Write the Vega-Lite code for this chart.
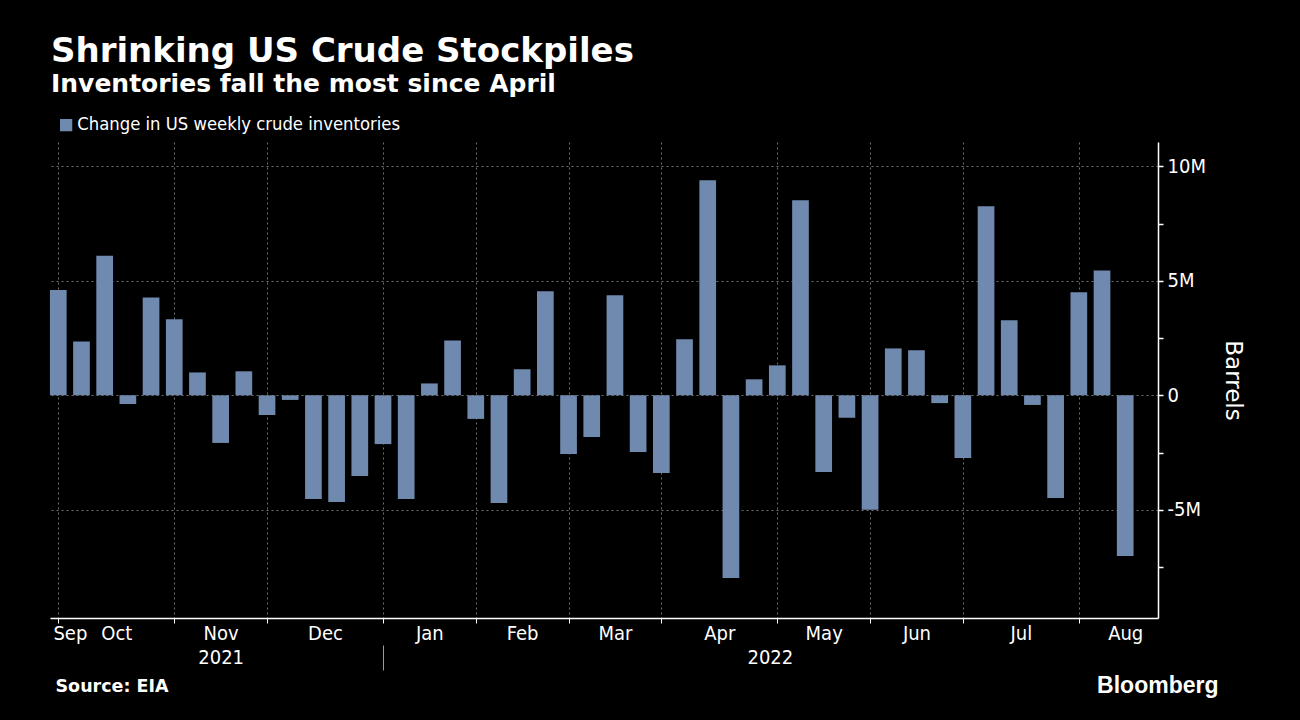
{
  "$schema": "https://vega.github.io/schema/vega-lite/v6.json",
  "width": 1108,
  "height": 476,
  "autosize": {"type": "none"},
  "padding": {"left": 50, "top": 142, "right": 142, "bottom": 102},
  "background": "#000000",
  "config": {"view": {"stroke": null}, "font": "DejaVu Sans Condensed"},
  "title": {
    "text": "Shrinking US Crude Stockpiles",
    "subtitle": "Inventories fall the most since April",
    "anchor": "start",
    "frame": "group",
    "color": "#ffffff",
    "subtitleColor": "#ffffff",
    "font": "DejaVu Sans",
    "subtitleFont": "DejaVu Sans",
    "fontSize": 34,
    "subtitleFontSize": 25,
    "fontWeight": "bold",
    "subtitleFontWeight": "bold",
    "subtitlePadding": 3,
    "offset": 19,
    "dx": 1
  },
  "data": {
    "values": [
      {"date": "2021-09-24", "change": 4600000, "series": "Change in US weekly crude inventories"},
      {"date": "2021-10-01", "change": 2350000, "series": "Change in US weekly crude inventories"},
      {"date": "2021-10-08", "change": 6100000, "series": "Change in US weekly crude inventories"},
      {"date": "2021-10-15", "change": -380000, "series": "Change in US weekly crude inventories"},
      {"date": "2021-10-22", "change": 4280000, "series": "Change in US weekly crude inventories"},
      {"date": "2021-10-29", "change": 3320000, "series": "Change in US weekly crude inventories"},
      {"date": "2021-11-05", "change": 1000000, "series": "Change in US weekly crude inventories"},
      {"date": "2021-11-12", "change": -2080000, "series": "Change in US weekly crude inventories"},
      {"date": "2021-11-19", "change": 1050000, "series": "Change in US weekly crude inventories"},
      {"date": "2021-11-26", "change": -860000, "series": "Change in US weekly crude inventories"},
      {"date": "2021-12-03", "change": -200000, "series": "Change in US weekly crude inventories"},
      {"date": "2021-12-10", "change": -4530000, "series": "Change in US weekly crude inventories"},
      {"date": "2021-12-17", "change": -4660000, "series": "Change in US weekly crude inventories"},
      {"date": "2021-12-24", "change": -3530000, "series": "Change in US weekly crude inventories"},
      {"date": "2021-12-31", "change": -2130000, "series": "Change in US weekly crude inventories"},
      {"date": "2022-01-07", "change": -4530000, "series": "Change in US weekly crude inventories"},
      {"date": "2022-01-14", "change": 520000, "series": "Change in US weekly crude inventories"},
      {"date": "2022-01-21", "change": 2400000, "series": "Change in US weekly crude inventories"},
      {"date": "2022-01-28", "change": -1030000, "series": "Change in US weekly crude inventories"},
      {"date": "2022-02-04", "change": -4710000, "series": "Change in US weekly crude inventories"},
      {"date": "2022-02-11", "change": 1140000, "series": "Change in US weekly crude inventories"},
      {"date": "2022-02-18", "change": 4550000, "series": "Change in US weekly crude inventories"},
      {"date": "2022-02-25", "change": -2560000, "series": "Change in US weekly crude inventories"},
      {"date": "2022-03-04", "change": -1820000, "series": "Change in US weekly crude inventories"},
      {"date": "2022-03-11", "change": 4370000, "series": "Change in US weekly crude inventories"},
      {"date": "2022-03-18", "change": -2480000, "series": "Change in US weekly crude inventories"},
      {"date": "2022-03-25", "change": -3390000, "series": "Change in US weekly crude inventories"},
      {"date": "2022-04-01", "change": 2450000, "series": "Change in US weekly crude inventories"},
      {"date": "2022-04-08", "change": 9400000, "series": "Change in US weekly crude inventories"},
      {"date": "2022-04-15", "change": -7980000, "series": "Change in US weekly crude inventories"},
      {"date": "2022-04-22", "change": 700000, "series": "Change in US weekly crude inventories"},
      {"date": "2022-04-29", "change": 1310000, "series": "Change in US weekly crude inventories"},
      {"date": "2022-05-06", "change": 8520000, "series": "Change in US weekly crude inventories"},
      {"date": "2022-05-13", "change": -3350000, "series": "Change in US weekly crude inventories"},
      {"date": "2022-05-20", "change": -980000, "series": "Change in US weekly crude inventories"},
      {"date": "2022-05-27", "change": -5000000, "series": "Change in US weekly crude inventories"},
      {"date": "2022-06-03", "change": 2050000, "series": "Change in US weekly crude inventories"},
      {"date": "2022-06-10", "change": 1970000, "series": "Change in US weekly crude inventories"},
      {"date": "2022-06-17", "change": -340000, "series": "Change in US weekly crude inventories"},
      {"date": "2022-06-24", "change": -2740000, "series": "Change in US weekly crude inventories"},
      {"date": "2022-07-01", "change": 8260000, "series": "Change in US weekly crude inventories"},
      {"date": "2022-07-08", "change": 3280000, "series": "Change in US weekly crude inventories"},
      {"date": "2022-07-15", "change": -420000, "series": "Change in US weekly crude inventories"},
      {"date": "2022-07-22", "change": -4490000, "series": "Change in US weekly crude inventories"},
      {"date": "2022-07-29", "change": 4500000, "series": "Change in US weekly crude inventories"},
      {"date": "2022-08-05", "change": 5460000, "series": "Change in US weekly crude inventories"},
      {"date": "2022-08-12", "change": -7020000, "series": "Change in US weekly crude inventories"}
    ]
  },
  "resolve": {"axis": {"x": "independent"}},
  "layer": [
    {
      "mark": {"type": "bar", "width": 16.7},
      "encoding": {
        "x": {
          "field": "date",
          "type": "temporal",
          "scale": {
            "type": "utc",
            "padding": 0,
            "domain": [
              {"year": 2021, "month": 9, "date": 21, "hours": 12, "utc": true},
              {"year": 2022, "month": 8, "date": 21, "hours": 21, "minutes": 30, "utc": true}
            ]
          },
          "axis": {
            "orient": "bottom",
            "title": null,
            "values": [
              {"year": 2021, "month": 9, "date": 24, "utc": true},
              {"year": 2021, "month": 10, "date": 29, "utc": true},
              {"year": 2021, "month": 11, "date": 26, "utc": true},
              {"year": 2021, "month": 12, "date": 31, "utc": true},
              {"year": 2022, "month": 1, "date": 28, "utc": true},
              {"year": 2022, "month": 2, "date": 25, "utc": true},
              {"year": 2022, "month": 3, "date": 25, "utc": true},
              {"year": 2022, "month": 4, "date": 29, "utc": true},
              {"year": 2022, "month": 5, "date": 27, "utc": true},
              {"year": 2022, "month": 6, "date": 24, "utc": true},
              {"year": 2022, "month": 7, "date": 29, "utc": true}
            ],
            "labels": false,
            "grid": true,
            "gridColor": "#707070",
            "gridDash": [2, 3],
            "gridWidth": 1,
            "ticks": true,
            "tickSize": 5,
            "tickColor": "#ffffff",
            "tickWidth": 1,
            "domain": true,
            "domainColor": "#ffffff",
            "domainWidth": 1.5
          }
        },
        "y": {
          "field": "change",
          "type": "quantitative",
          "scale": {"domain": [-9730000, 11070000], "nice": false, "zero": false, "padding": 0},
          "axis": {
            "orient": "right",
            "title": "Barrels",
            "titleColor": "#ffffff",
            "titleFontSize": 23,
            "titleFontWeight": "normal",
            "titleFont": "DejaVu Sans",
            "titlePadding": 15,
            "values": [-7500000, -5000000, -2500000, 0, 2500000, 5000000, 7500000, 10000000],
            "labelExpr": "datum.value % 5000000 !== 0 ? '' : (datum.value === 0 ? '0' : (datum.value / 1000000) + 'M')",
            "labelColor": "#ffffff",
            "labelFontSize": 20,
            "labelFont": "DejaVu Sans Condensed",
            "labelPadding": 4,
            "labelBound": false,
            "labelFlush": false,
            "labelOverlap": false,
            "grid": true,
            "gridColor": "#707070",
            "gridDash": [2, 3],
            "gridWidth": 1,
            "gridOpacity": {"condition": {"test": "datum.value % 5000000 === 0", "value": 1}, "value": 0},
            "tickSize": 5,
            "tickColor": "#ffffff",
            "tickWidth": 1.5,
            "domainColor": "#ffffff",
            "domainWidth": 1.5
          }
        },
        "color": {
          "field": "series",
          "type": "nominal",
          "scale": {"range": ["#7089ae"]},
          "legend": {
            "title": null,
            "orient": "none",
            "legendX": 7,
            "legendY": -26,
            "symbolType": "square",
            "symbolSize": 150,
            "symbolStrokeWidth": 0,
            "labelColor": "#ffffff",
            "labelFontSize": 18.3,
            "labelFont": "DejaVu Sans Condensed",
            "labelOffset": 2,
            "labelLimit": 600
          }
        }
      }
    },
    {
      "mark": {"type": "point", "opacity": 0},
      "encoding": {
        "x": {
          "field": "date",
          "type": "temporal",
          "axis": {
            "orient": "bottom",
            "values": [
              {"year": 2021, "month": 9, "date": 27, "hours": 12, "utc": true},
              {"year": 2021, "month": 10, "date": 11, "hours": 12, "utc": true},
              {"year": 2021, "month": 11, "date": 12, "utc": true},
              {"year": 2021, "month": 12, "date": 13, "hours": 12, "utc": true},
              {"year": 2022, "month": 1, "date": 14, "utc": true},
              {"year": 2022, "month": 2, "date": 11, "utc": true},
              {"year": 2022, "month": 3, "date": 11, "utc": true},
              {"year": 2022, "month": 4, "date": 11, "hours": 12, "utc": true},
              {"year": 2022, "month": 5, "date": 13, "utc": true},
              {"year": 2022, "month": 6, "date": 10, "utc": true},
              {"year": 2022, "month": 7, "date": 11, "hours": 12, "utc": true},
              {"year": 2022, "month": 8, "date": 12, "utc": true}
            ],
            "labelExpr": "utcFormat(datum.value, '%b')",
            "labelColor": "#ffffff",
            "labelFontSize": 20,
            "labelFont": "DejaVu Sans Condensed",
            "labelPadding": 5,
            "labelBound": false,
            "labelFlush": false,
            "labelOverlap": false,
            "ticks": false,
            "domain": false,
            "grid": false,
            "title": "Bloomberg",
            "titleColor": "#ffffff",
            "titleFont": "Liberation Sans",
            "titleFontSize": 23,
            "titleFontWeight": "bold",
            "titleAlign": "right",
            "titleBaseline": "alphabetic",
            "titleX": 1168,
            "titleY": 74
          }
        }
      }
    },
    {
      "mark": {"type": "point", "opacity": 0},
      "encoding": {
        "x": {
          "field": "date",
          "type": "temporal",
          "axis": {
            "orient": "bottom",
            "values": [
              {"year": 2021, "month": 11, "date": 12, "utc": true},
              {"year": 2022, "month": 4, "date": 26, "hours": 18, "utc": true}
            ],
            "labelExpr": "utcFormat(datum.value, '%Y')",
            "labelColor": "#ffffff",
            "labelFontSize": 20,
            "labelFont": "DejaVu Sans Condensed",
            "labelPadding": 29,
            "labelBound": false,
            "labelFlush": false,
            "labelOverlap": false,
            "ticks": false,
            "domain": false,
            "grid": false,
            "title": "Source: EIA",
            "titleColor": "#ffffff",
            "titleFont": "DejaVu Sans",
            "titleFontSize": 17.5,
            "titleFontWeight": "bold",
            "titleAlign": "left",
            "titleBaseline": "alphabetic",
            "titleX": 5,
            "titleY": 73
          }
        }
      }
    },
    {
      "mark": {"type": "point", "opacity": 0},
      "encoding": {
        "x": {
          "field": "date",
          "type": "temporal",
          "axis": {
            "orient": "bottom",
            "offset": 27,
            "values": [{"year": 2021, "month": 12, "date": 31, "utc": true}],
            "labels": false,
            "ticks": true,
            "tickSize": 25,
            "tickColor": "#9a9a9a",
            "tickWidth": 1,
            "domain": false,
            "grid": false,
            "title": null
          }
        }
      }
    }
  ]
}
